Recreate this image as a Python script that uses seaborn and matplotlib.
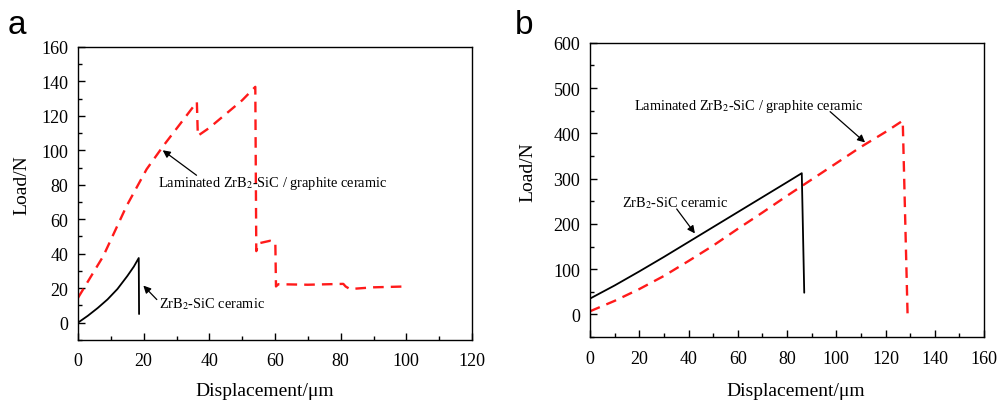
import matplotlib
matplotlib.use("Agg")
import matplotlib.pyplot as plt
import seaborn as sns
import pandas as pd
from matplotlib.ticker import MultipleLocator

# panel a: load-displacement curves
a_mono_x = [0, 3, 6, 9, 12, 15, 17, 18.5, 18.6]
a_mono_y = [0, 4, 8.5, 13.5, 19.5, 27, 32.5, 37.5, 5.0]
a_lam_x = [0, 7.7, 14.8, 20.9, 26, 31, 36.2, 36.5, 40, 45, 50, 54.0, 54.3, 55, 58.5, 60.1, 60.3,
           61, 70, 80.8, 81.5, 82.8, 90, 100]
a_lam_y = [14.4, 38.6, 67.7, 89, 102.6, 115, 128, 108.4, 113, 121, 129, 136.8, 41.5, 46, 47.5, 46.5, 21,
           22.3, 22, 22.5, 21, 19.5, 20.5, 21]

# panel b
b_mono_x = [0, 10, 20, 30, 40, 50, 60, 70, 80, 86, 87]
b_mono_y = [35, 64, 95, 127, 160, 193, 226, 259, 292, 312, 48]
b_lam_x = [0, 10, 20, 30, 40, 50, 60, 70, 80, 90, 100, 110, 120, 127, 129]
b_lam_y = [7, 30, 56, 85, 118, 152, 189, 225, 262, 298, 334, 370, 403, 428, -8]

LAM_LABEL = "Laminated ZrB$_2$-SiC / graphite ceramic"
MONO_LABEL = "ZrB$_2$-SiC ceramic"

sns.set_style("ticks")
plt.rcParams["font.family"] = ["Liberation Serif", "DejaVu Serif"]
plt.rcParams["mathtext.fontset"] = "stix"
plt.rcParams["text.color"] = "black"
plt.rcParams["axes.labelcolor"] = "black"
plt.rcParams["xtick.color"] = "black"
plt.rcParams["ytick.color"] = "black"

fig = plt.figure(figsize=(10, 4.02), dpi=100)
ax_a = fig.add_axes([0.078, 0.152, 0.394, 0.729])
ax_b = fig.add_axes([0.590, 0.159, 0.394, 0.732])


def draw(ax, mx, my, lx, ly):
    sns.lineplot(data=pd.DataFrame({"x": lx, "y": ly}), x="x", y="y", ax=ax, sort=False,
                 color="#ff1a1a", lw=1.7, estimator=None)
    ax.lines[-1].set_dashes((4.5, 3))
    sns.lineplot(data=pd.DataFrame({"x": mx, "y": my}), x="x", y="y", ax=ax, sort=False,
                 color="black", lw=1.3, estimator=None)


def style(ax, xmax, ymin, ymax, xmaj, ymaj):
    ax.set_xlim(0, xmax)
    ax.set_ylim(ymin, ymax)
    ax.xaxis.set_major_locator(MultipleLocator(xmaj))
    ax.xaxis.set_minor_locator(MultipleLocator(xmaj / 2))
    ax.yaxis.set_major_locator(MultipleLocator(ymaj))
    ax.yaxis.set_minor_locator(MultipleLocator(ymaj / 2))
    ax.set_yticks([t for t in ax.get_yticks() if 0 <= t <= ymax])
    ax.tick_params(which="both", direction="in", top=False, right=False, labelsize=13)
    ax.tick_params(axis="x", pad=9)
    ax.tick_params(axis="y", pad=7)
    ax.tick_params(which="major", length=5, width=1)
    ax.tick_params(which="minor", length=3, width=1)
    for s in ax.spines.values():
        s.set_visible(True)
        s.set_linewidth(1)
        s.set_color("black")
    ax.set_xlabel("Displacement/\u03bcm", fontsize=14)
    ax.set_ylabel("Load/N", fontsize=14)


arrow = dict(arrowstyle="-|>", color="black", lw=0.9, mutation_scale=11, shrinkA=0, shrinkB=0)

draw(ax_a, a_mono_x, a_mono_y, a_lam_x, a_lam_y)
style(ax_a, 120, -10, 160, 20, 20)
ax_a.yaxis.set_minor_locator(MultipleLocator(10))
ax_a.xaxis.set_label_coords(0.473, -0.143)
ax_a.yaxis.set_label_coords(-0.122, 0.532)
ax_a.annotate("", xy=(25.8, 100), xytext=(36.1, 85.5), arrowprops=arrow)
ax_a.text(24.4, 81.5, LAM_LABEL, fontsize=10.4, va="center", ha="left")
ax_a.annotate("", xy=(19.9, 21.5), xytext=(24.0, 13.4), arrowprops=arrow)
ax_a.text(24.6, 11.5, MONO_LABEL, fontsize=10.4, va="center", ha="left")

draw(ax_b, b_mono_x, b_mono_y, b_lam_x, b_lam_y)
style(ax_b, 160, -50, 600, 20, 100)
ax_b.xaxis.set_label_coords(0.522, -0.153)
ax_b.yaxis.set_label_coords(-0.137, 0.565)
ax_b.annotate("", xy=(111.7, 380), xytext=(97.5, 448), arrowprops=arrow)
ax_b.text(18, 462, LAM_LABEL, fontsize=10.4, va="center", ha="left")
ax_b.annotate("", xy=(42.6, 179), xytext=(35.2, 233), arrowprops=arrow)
ax_b.text(13.1, 248, MONO_LABEL, fontsize=10.4, va="center", ha="left")

fig.text(0.008, 0.975, "a", fontsize=24, family="Liberation Sans", va="top", ha="left")
fig.text(0.515, 0.975, "b", fontsize=24, family="Liberation Sans", va="top", ha="left")

fig.savefig("out.png", dpi=100)
